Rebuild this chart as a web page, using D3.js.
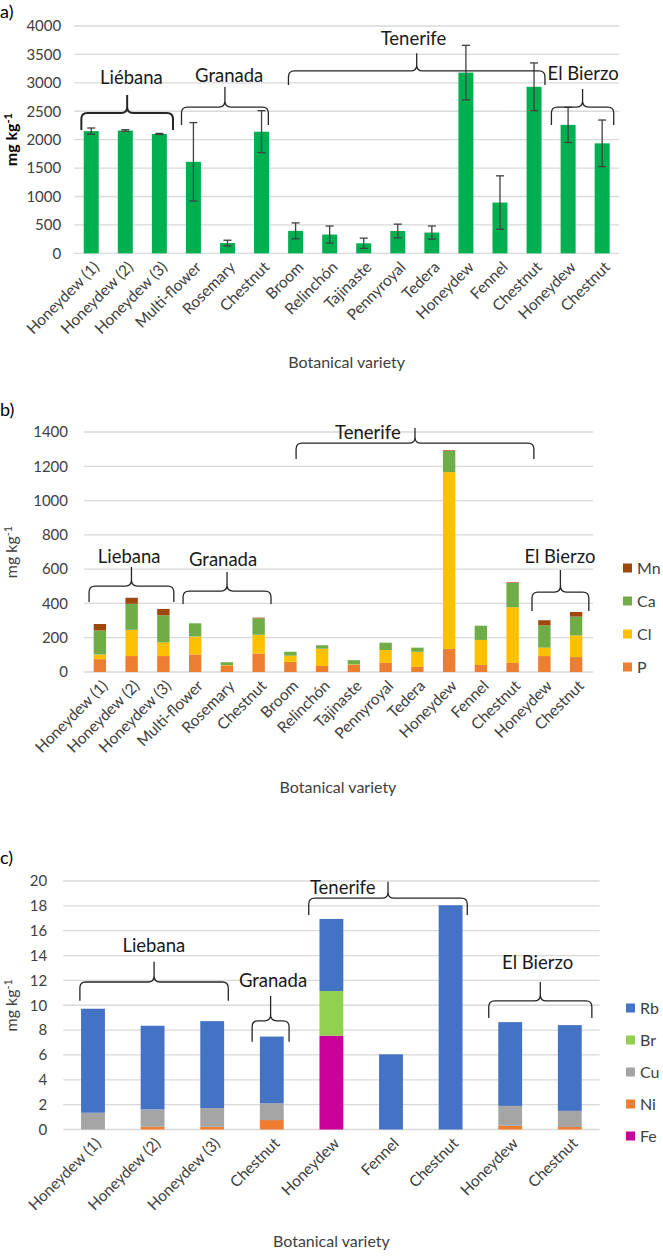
<!DOCTYPE html>
<html>
<head>
<meta charset="utf-8">
<script src="https://cdn.jsdelivr.net/npm/d3@7"></script>
<style>
  body { margin: 0; background: #fff; }
  svg { display: block; font-family: Lato, "Open Sans", sans-serif; }
</style>
</head>
<body>
<div id="chart"></div>
<script>
// ---------- data ----------
const varietiesA = ["Honeydew (1)", "Honeydew (2)", "Honeydew (3)", "Multi-flower", "Rosemary", "Chestnut",
  "Broom", "Relinchón", "Tajinaste", "Pennyroyal", "Tedera", "Honeydew", "Fennel", "Chestnut", "Honeydew", "Chestnut"];
const totalA = [2150, 2160, 2100, 1610, 180, 2140, 395, 330, 176, 393, 365, 3180, 893, 2930, 2260, 1935];
const errA   = [55, 15, 10, 690, 50, 370, 140, 150, 90, 120, 115, 480, 470, 420, 310, 410];
const ticksA = [0, 500, 1000, 1500, 2000, 2500, 3000, 3500, 4000];
const groupsA = ["Liébana", "Granada", "Tenerife", "El Bierzo"];

const varietiesB = varietiesA;
const pB  = [75, 93, 93, 102, 38, 108, 59, 35, 41, 53, 30, 134, 41, 53, 93, 87];
const clB = [27, 153, 80, 105, 2, 109, 36, 101, 3, 75, 88, 1032, 146, 325, 49, 126];
const caB = [140, 152, 158, 77, 17, 96, 23, 20, 25, 43, 24, 123, 83, 141, 130, 110];
const mnB = [38, 35, 37, 0, 0, 4, 0, 0, 0, 0, 0, 4, 0, 4, 30, 27];
const keysB = ["P", "Cl", "Ca", "Mn"];
const ticksB = [0, 200, 400, 600, 800, 1000, 1200, 1400];
const groupsB = ["Liebana", "Granada", "Tenerife", "El Bierzo"];

const varietiesC = ["Honeydew (1)", "Honeydew (2)", "Honeydew (3)", "Chestnut", "Honeydew", "Fennel", "Chestnut", "Honeydew", "Chestnut"];
const feC = [0, 0, 0, 0, 7.55, 0, 0, 0, 0];
const niC = [0, 0.22, 0.22, 0.76, 0, 0, 0, 0.3, 0.2];
const cuC = [1.35, 1.4, 1.5, 1.35, 0, 0, 0, 1.6, 1.3];
const brC = [0, 0, 0, 0, 3.6, 0, 0, 0, 0];
const rbC = [8.37, 6.73, 7.0, 5.37, 5.8, 6.05, 18.05, 6.74, 6.9];
const keysC = ["Fe", "Ni", "Cu", "Br", "Rb"];
const ticksC = [0, 2, 4, 6, 8, 10, 12, 14, 16, 18, 20];
const groupsC = ["Liebana", "Granada", "Tenerife", "El Bierzo"];

// ---------- styles ----------
const colorsB = { P: "#ed7d31", Cl: "#ffc000", Ca: "#70ad47", Mn: "#9e480e" };
const colorsC = { Fe: "#cc0099", Ni: "#ed7d31", Cu: "#a5a5a5", Br: "#92d050", Rb: "#4472c4" };
const gridColor = "#d9d9d9";
const textColor = "#404040";

const svg = d3.select("#chart").append("svg")
  .attr("width", 663)
  .attr("height", 1256);

// brace annotations, x in bar-index units, y in data units
const bracesA = [
  { x0: -0.29, x1: 2.40, tip: 2170, line: 2469, peak: 2786, tx: 1.18, ty: 3102, w: 2 },
  { x0: 2.65, x1: 5.20, tip: 2258, line: 2574, peak: 2926, tx: 4.05, ty: 3120 },
  { x0: 5.79, x1: 13.32, tip: 2962, line: 3209, peak: 3522, tx: 9.46, ty: 3786 },
  { x0: 13.51, x1: 15.34, tip: 2258, line: 2574, peak: 2891, tx: 14.44, ty: 3155 }
];
const bracesB = [
  { x0: -0.34, x1: 2.33, tip: 408, line: 501, peak: 612, tx: 0.92, ty: 676 },
  { x0: 2.62, x1: 5.39, tip: 396, line: 472, peak: 583, tx: 3.88, ty: 659 },
  { x0: 6.18, x1: 13.67, tip: 1242, line: 1335, peak: 1423, tx: 8.44, ty: 1399 },
  { x0: 13.61, x1: 15.4, tip: 356, line: 466, peak: 595, tx: 14.49, ty: 671 }
];
const bracesC = [
  { x0: -0.22, x1: 2.27, tip: 10.36, line: 11.87, peak: 13.5, tx: 1.02, ty: 14.79 },
  { x0: 2.67, x1: 3.29, tip: 7.06, line: 8.75, peak: 10.74, tx: 3.02, ty: 11.95 },
  { x0: 3.62, x1: 6.28, tip: 17.26, line: 18.62, peak: 19.94, tx: 4.19, ty: 19.51 },
  { x0: 6.64, x1: 8.37, tip: 8.97, line: 10.35, peak: 11.87, tx: 7.46, ty: 13.41 }
];

function bracePath(a, b, yt, yl, yp) {
  const r = Math.min(6, (yt - yl) * 0.6, (b - a) / 5);
  const m = (a + b) / 2;
  return `M${a},${yt} L${a},${yl + r} Q${a},${yl} ${a + r},${yl} L${m - r},${yl} Q${m},${yl} ${m},${yl - r} L${m},${yp}` +
    ` M${m},${yl - r} Q${m},${yl} ${m + r},${yl} L${b - r},${yl} Q${b},${yl} ${b},${yl + r} L${b},${yt}`;
}

function panel(o) {
  const g = svg.append("g");
  const n = o.labels.length;

  const x = d3.scaleBand()
    .domain(d3.range(n))
    .range([o.left, o.right])
    .paddingInner(o.pad)
    .paddingOuter(o.pad / 2);
  const y = d3.scaleLinear().domain(o.domain).range([o.bottom, o.top]);
  const pos = f => x(0) + x.bandwidth() / 2 + f * x.step();

  // gridlines
  g.append("g").selectAll("line")
    .data(o.ticks)
    .enter().append("line")
    .attr("x1", o.left).attr("x2", o.gridEnd)
    .attr("y1", d => y(d)).attr("y2", d => y(d))
    .attr("stroke", gridColor)
    .attr("stroke-width", 1.3);

  // y axis
  const ya = g.append("g")
    .attr("transform", `translate(${o.left},0)`)
    .call(d3.axisLeft(y).tickValues(o.ticks).tickFormat(d3.format("d")).tickSize(0).tickPadding(o.tickPad));
  ya.select(".domain").remove();
  ya.selectAll("text")
    .attr("font-family", "Lato, sans-serif")
    .attr("font-size", "15px")
    .attr("fill", textColor);

  // x axis
  const xa = g.append("g")
    .attr("transform", `translate(0,${o.bottom})`)
    .call(d3.axisBottom(x).tickSize(0).tickFormat(i => o.labels[i]));
  xa.select(".domain").remove();
  xa.selectAll("text")
    .attr("font-family", "Lato, sans-serif")
    .attr("font-size", "15.5px")
    .attr("fill", textColor)
    .attr("text-anchor", "end")
    .attr("y", 0)
    .attr("dy", "0.35em")
    .attr("transform", "translate(5,11) rotate(-45)");

  o.draw(g, x, y);

  // braces + group names
  o.braces.forEach((b, i) => {
    g.append("path")
      .attr("d", bracePath(pos(b.x0), pos(b.x1), y(b.tip), y(b.line), y(b.peak)))
      .attr("fill", "none")
      .attr("stroke", "#262626")
      .attr("stroke-width", b.w || 1.3);
    g.append("text")
      .attr("x", pos(b.tx))
      .attr("y", y(b.ty))
      .attr("dy", "0.35em")
      .attr("text-anchor", "middle")
      .attr("font-size", "18.5px")
      .attr("fill", "#1a1a1a")
      .text(o.groups[i]);
  });

  // axis titles
  g.append("text")
    .attr("x", (o.left + o.right) / 2)
    .attr("y", o.titleY)
    .attr("text-anchor", "middle")
    .attr("font-size", "16px")
    .attr("fill", textColor)
    .text("Botanical variety");

  const yt = g.append("text")
    .attr("transform", `translate(${o.yTitleX},${(o.top + o.bottom) / 2}) rotate(-90)`)
    .attr("text-anchor", "middle")
    .attr("font-size", "16px")
    .attr("font-weight", o.boldY ? "700" : "400")
    .attr("fill", o.boldY ? "#000" : textColor);
  yt.append("tspan").text("mg kg");
  yt.append("tspan").attr("dy", "-0.45em").attr("font-size", "11px").text("-1");

  g.append("text")
    .attr("x", 0)
    .attr("y", o.tagY)
    .attr("font-size", "18px")
    .attr("fill", "#000")
    .text(o.tag);
}

// a) totals with error bars
panel({
  tag: "a)", tagY: 18, labels: varietiesA, groups: groupsA, braces: bracesA,
  left: 74.2, right: 619.2, gridEnd: 619.2, top: 26, bottom: 253.3, pad: 0.56, tickPad: 13,
  domain: [0, 4000], ticks: ticksA, titleY: 368, yTitleX: 17, boldY: true,
  draw: (g, x, y) => {
    g.append("g").selectAll("rect")
      .data(totalA)
      .enter().append("rect")
      .attr("x", (d, i) => x(i))
      .attr("width", x.bandwidth())
      .attr("y", d => y(d))
      .attr("height", d => y(0) - y(d))
      .attr("fill", "#00b050");
    const eb = g.append("g").attr("stroke", "#404040").attr("stroke-width", 1.3);
    totalA.forEach((d, i) => {
      const cx = x(i) + x.bandwidth() / 2;
      const hi = y(d + errA[i]), lo = y(d - errA[i]);
      eb.append("line").attr("x1", cx).attr("x2", cx).attr("y1", hi).attr("y2", lo);
      eb.append("line").attr("x1", cx - 4).attr("x2", cx + 4).attr("y1", hi).attr("y2", hi);
      eb.append("line").attr("x1", cx - 4).attr("x2", cx + 4).attr("y1", lo).attr("y2", lo);
    });
  }
});

// stacked helper
function stackedDraw(keys, series, colors, legendX, legendY0, legendStep, sq) {
  return (g, x, y) => {
    const rows = series[0].map((_, i) => {
      const r = { i: i };
      keys.forEach((k, j) => { r[k] = series[j][i]; });
      return r;
    });
    const stacked = d3.stack().keys(keys)(rows);
    g.append("g").selectAll("g")
      .data(stacked)
      .enter().append("g")
      .attr("fill", d => colors[d.key])
      .selectAll("rect")
      .data(d => d)
      .enter().append("rect")
      .attr("x", d => x(d.data.i))
      .attr("width", x.bandwidth())
      .attr("y", d => y(d[1]))
      .attr("height", d => y(d[0]) - y(d[1]));

    const lg = g.append("g").selectAll("g")
      .data(keys.slice().reverse())
      .enter().append("g")
      .attr("transform", (d, i) => `translate(${legendX},${legendY0 + i * legendStep})`);
    lg.append("rect")
      .attr("x", 0).attr("y", -sq / 2)
      .attr("width", sq).attr("height", sq)
      .attr("fill", d => colors[d]);
    lg.append("text")
      .attr("x", sq + 5).attr("dy", "0.35em")
      .attr("font-size", "16px")
      .attr("fill", textColor)
      .text(d => d);
  };
}

// b) macro elements
panel({
  tag: "b)", tagY: 416, labels: varietiesB, groups: groupsB, braces: bracesB,
  left: 84, right: 592, gridEnd: 593, top: 432, bottom: 672, pad: 0.61, tickPad: 16,
  domain: [0, 1400], ticks: ticksB, titleY: 793, yTitleX: 17,
  draw: stackedDraw(keysB, [pB, clB, caB, mnB], colorsB, 623, 568, 33, 9)
});

// c) trace elements
panel({
  tag: "c)", tagY: 864, labels: varietiesC, groups: groupsC, braces: bracesC,
  left: 63.2, right: 599.6, gridEnd: 599.6, top: 881, bottom: 1129.5, pad: 0.60, tickPad: 16,
  domain: [0, 20], ticks: ticksC, titleY: 1247, yTitleX: 17,
  draw: stackedDraw(keysC, [feC, niC, cuC, brC, rbC], colorsC, 626, 1008, 32, 9)
});
</script>
</body>
</html>
